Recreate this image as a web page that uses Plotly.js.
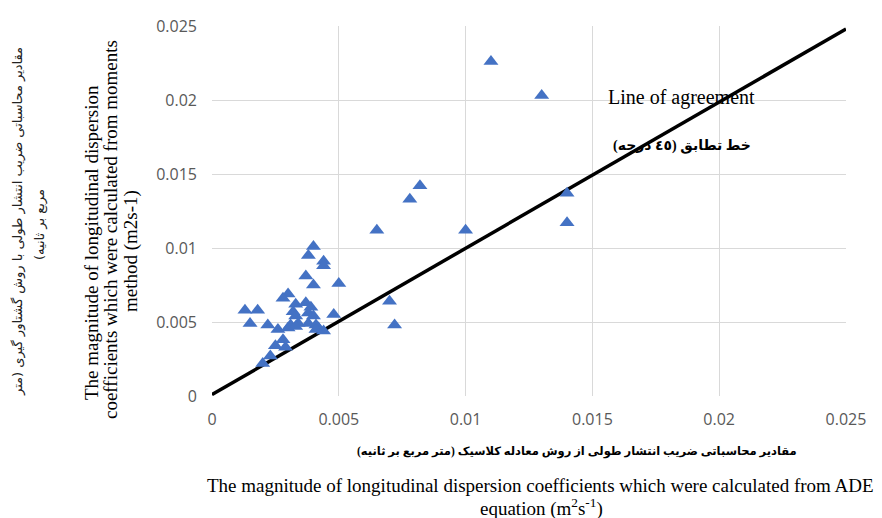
<!DOCTYPE html>
<html>
<head>
<meta charset="utf-8">
<script src="https://cdn.plot.ly/plotly-3.0.1.min.js"></script>
<style>html,body{margin:0;padding:0;background:#fff;}#chart{width:882px;height:518px;}</style>
</head>
<body>
<div id="chart"></div>
<script>
// ADE-equation coefficients (x) vs moments-method coefficients (y), m2/s
const adeValues = [
  0.0110, 0.0130, 0.0140, 0.0140, 0.0100, 0.0082, 0.0078, 0.0065, 0.0070, 0.0072,
  0.0040, 0.0038, 0.0044, 0.0044, 0.0037, 0.0040, 0.0050, 0.0030, 0.0028,
  0.0013, 0.0018, 0.0015, 0.0022, 0.0026, 0.0028, 0.0025, 0.0029, 0.0023, 0.0020,
  0.0048, 0.0042, 0.0044,
  0.0033, 0.0037, 0.0039, 0.0032, 0.0038, 0.0040, 0.0033, 0.0031, 0.0034, 0.0038,
  0.0041, 0.0030, 0.0033, 0.0041
];
const momentValues = [
  0.0226, 0.0203, 0.0137, 0.0117, 0.0112, 0.0142, 0.0133, 0.0112, 0.0064, 0.0048,
  0.0101, 0.0095, 0.0091, 0.0088, 0.0081, 0.0075, 0.0076, 0.0069, 0.0066,
  0.0058, 0.0058, 0.0049, 0.0048, 0.0045, 0.0038, 0.0034, 0.0033, 0.0027, 0.0022,
  0.0055, 0.0046, 0.0044,
  0.0062, 0.0063, 0.0060, 0.0057, 0.0056, 0.0054, 0.0054, 0.0048, 0.0049, 0.0049,
  0.0048, 0.0046, 0.0047, 0.0045
];
// Line of agreement (45 degree)
const agreementX = [0, 0.025];
const agreementY = [0.0001, 0.0248];

const tickValues = [0, 0.005, 0.01, 0.015, 0.02, 0.025];
const tickLabels = ['0', '0.005', '0.01', '0.015', '0.02', '0.025'];

const lineLabel = 'Line of agreement';
const lineLabelFa = 'خط تطابق (٤٥ درجه)\u200F';
const yTitleFa1 = 'مقادیر محاسباتی ضریب انتشار طولی با روش گشتاور گیری (متر';
const yTitleFa2 = 'مربع بر ثانیه)\u200F';
const yTitleEn = ['The magnitude of longitudinal dispersion',
                  'coefficients which were calculated from moments',
                  'method (m2s-1)'];
const xTitleFa = 'مقادیر محاسباتی ضریب انتشار طولی از روش معادله کلاسیک (متر مربع بر ثانیه)\u200F';
const xTitleEn1 = 'The magnitude of longitudinal dispersion coefficients which were calculated from ADE';
const xTitleEn2 = 'equation (m<sup>2</sup>s<sup>-1</sup>)';

const serif = '"Liberation Serif", "Times New Roman", "DejaVu Sans", serif';
const tickFont = {family: '"Open Sans", "Liberation Sans", sans-serif', size: 16, color: '#595959'};

const traces = [
  {
    x: agreementX, y: agreementY, type: 'scatter', mode: 'lines',
    line: {color: '#000000', width: 3.5}, hoverinfo: 'skip', showlegend: false
  },
  {
    x: adeValues, y: momentValues, type: 'scatter', mode: 'markers',
    marker: {symbol: 'triangle-up', size: 13, color: '#4472C4'},
    showlegend: false
  }
];

const axisCommon = {
  range: [0, 0.025], tickmode: 'array', tickvals: tickValues, ticktext: tickLabels,
  showgrid: true, gridcolor: '#d9d9d9', gridwidth: 1,
  zeroline: false, showline: false, ticks: '', tickfont: tickFont,
  fixedrange: true
};

const annotations = [
  {text: lineLabel, xref: 'paper', yref: 'paper', x: (681-212)/634, y: (396-97)/370,
   showarrow: false, xanchor: 'center', yanchor: 'middle', font: {family: serif, size: 20, color: '#000'}},
  {text: '<b>' + lineLabelFa + '</b>', xref: 'paper', yref: 'paper', x: (682-212)/634, y: (396-146)/370,
   showarrow: false, xanchor: 'center', yanchor: 'middle', font: {family: serif, size: 14, color: '#000'}},
  {text: yTitleFa1, xref: 'paper', yref: 'paper', x: (18-212)/634, y: (396-222)/370, textangle: -90,
   showarrow: false, xanchor: 'center', yanchor: 'middle', font: {family: '"DejaVu Sans", sans-serif', size: 13, color: '#222'}},
  {text: yTitleFa2, xref: 'paper', yref: 'paper', x: (40-212)/634, y: (396-225)/370, textangle: -90,
   showarrow: false, xanchor: 'center', yanchor: 'middle', font: {family: '"DejaVu Sans", sans-serif', size: 13, color: '#222'}},
  {text: yTitleEn[0], xref: 'paper', yref: 'paper', x: (91-212)/634, y: (396-243)/370, textangle: -90,
   showarrow: false, xanchor: 'center', yanchor: 'middle', font: {family: serif, size: 19, color: '#000'}},
  {text: yTitleEn[1], xref: 'paper', yref: 'paper', x: (111-212)/634, y: (396-230)/370, textangle: -90,
   showarrow: false, xanchor: 'center', yanchor: 'middle', font: {family: serif, size: 19, color: '#000'}},
  {text: yTitleEn[2], xref: 'paper', yref: 'paper', x: (131-212)/634, y: (396-251)/370, textangle: -90,
   showarrow: false, xanchor: 'center', yanchor: 'middle', font: {family: serif, size: 19, color: '#000'}},
  {text: '<b>' + xTitleFa + '</b>', xref: 'paper', yref: 'paper', x: (577-212)/634, y: (396-452)/370,
   showarrow: false, xanchor: 'center', yanchor: 'middle', font: {family: serif, size: 11.5, color: '#000'}},
  {text: xTitleEn1, xref: 'paper', yref: 'paper', x: (540-212)/634, y: (396-485)/370,
   showarrow: false, xanchor: 'center', yanchor: 'middle', font: {family: serif, size: 19, color: '#000'}},
  {text: xTitleEn2, xref: 'paper', yref: 'paper', x: (541-212)/634, y: (396-507)/370,
   showarrow: false, xanchor: 'center', yanchor: 'middle', font: {family: serif, size: 19, color: '#000'}}
];

const layout = {
  width: 882, height: 518,
  margin: {l: 212, r: 36, t: 26, b: 122},
  paper_bgcolor: '#ffffff', plot_bgcolor: '#ffffff',
  showlegend: false,
  xaxis: Object.assign({}, axisCommon, {ticklabelstandoff: 12}),
  yaxis: Object.assign({}, axisCommon, {ticklabelstandoff: 14}),
  annotations: annotations
};

Plotly.newPlot('chart', traces, layout, {staticPlot: true, displayModeBar: false});
</script>
</body>
</html>
